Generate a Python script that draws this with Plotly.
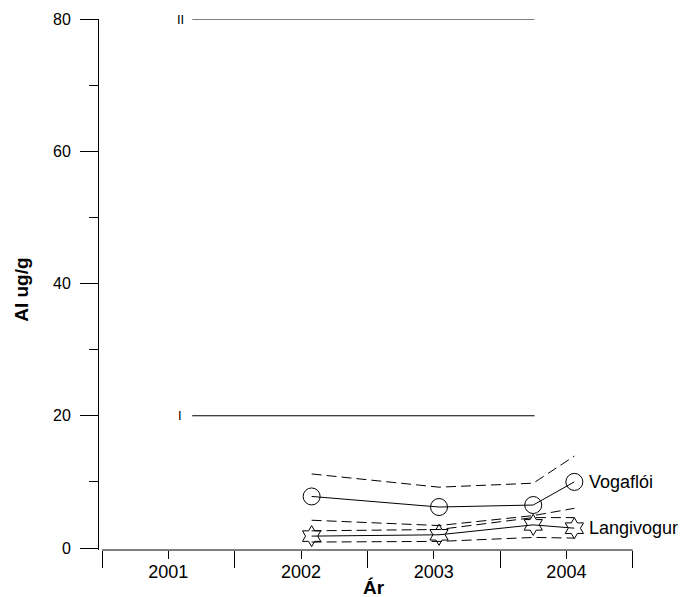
import plotly.graph_objects as go

# ---- data ----
sample_dates = [2002.08, 2003.04, 2003.75, 2004.06]

vogafloi = [7.8, 6.2, 6.5, 10.0]
vogafloi_upper = [11.2, 9.2, 9.8, 13.9]
vogafloi_lower = [4.2, 3.4, 4.9, 6.0]

langivogur = [1.8, 2.0, 3.5, 3.0]
langivogur_upper = [2.6, 2.8, 4.6, 4.6]
langivogur_lower = [0.9, 1.0, 1.6, 1.5]

year_ticks = [2001, 2002, 2003, 2004]
year_labels = ["2001", "2002", "2003", "2004"]
y_ticks = [0, 20, 40, 60, 80]

class_limits = [20, 80]
class_names = ["I", "II"]
class_line_start = 2001.18
class_line_end = 2003.76
class_label_x = 2001.09

FONT = "Liberation Sans, Arial, sans-serif"

fig = go.Figure()

dash_style = dict(color="black", width=1, dash="10px,5px")
for ys in [vogafloi_upper, vogafloi_lower, langivogur_upper, langivogur_lower]:
    fig.add_trace(go.Scatter(x=sample_dates, y=ys, mode="lines",
                             line=dash_style, showlegend=False, hoverinfo="skip"))

fig.add_trace(go.Scatter(x=sample_dates, y=vogafloi, mode="lines+markers",
                         line=dict(color="black", width=1),
                         marker=dict(symbol="circle-open", size=17,
                                     line=dict(color="black", width=1), color="black"),
                         name="Vogaflói", showlegend=False))
fig.add_trace(go.Scatter(x=sample_dates, y=langivogur, mode="lines+markers",
                         line=dict(color="black", width=1),
                         marker=dict(symbol="hexagram-open", size=16,
                                     line=dict(color="black", width=1), color="black"),
                         name="Langivogur", showlegend=False))

# class limit lines
for val, nm in zip(class_limits, class_names):
    fig.add_shape(type="line", xref="x", yref="y", x0=class_line_start, x1=class_line_end,
                  y0=val, y1=val, line=dict(color="black", width=1))
    fig.add_annotation(x=class_label_x, y=val, xref="x", yref="y", text=nm, showarrow=False,
                       font=dict(family=FONT, size=13, color="black"),
                       xanchor="center", yanchor="middle")

# series labels
fig.add_annotation(x=sample_dates[-1], y=vogafloi[-1], text="Vogaflói", showarrow=False,
                   xanchor="left", yanchor="middle", xshift=13,
                   font=dict(family=FONT, size=18, color="black"))
fig.add_annotation(x=sample_dates[-1], y=langivogur[-1], text="Langivogur", showarrow=False,
                   xanchor="left", yanchor="middle", xshift=13,
                   font=dict(family=FONT, size=18, color="black"))

# x axis line (offset from y axis)
fig.add_shape(type="line", xref="x", yref="paper", x0=2000.5, x1=2004.5, y0=0, y1=0,
              line=dict(color="black", width=1))

# axis titles
fig.add_annotation(xref="paper", yref="paper", x=0, y=0.49, xshift=-77, text="<b>Al ug/g</b>",
                   textangle=-90, showarrow=False, xanchor="center", yanchor="middle",
                   font=dict(family=FONT, size=19, color="black"))
fig.add_annotation(xref="paper", yref="paper", x=0.5, y=0, yshift=-37, xshift=8, text="<b>Ár</b>",
                   showarrow=False, xanchor="center", yanchor="middle",
                   font=dict(family=FONT, size=19, color="black"))

fig.update_layout(
    width=684, height=597,
    margin=dict(l=99, r=51, t=19, b=47, autoexpand=False),
    plot_bgcolor="white", paper_bgcolor="white",
    showlegend=False,
    font=dict(family=FONT, color="black"),
    xaxis=dict(range=[2000.4774, 2004.502], showgrid=False, zeroline=False, showline=False,
               automargin=False,
               tickmode="array", tickvals=year_ticks, ticktext=year_labels,
               ticks="outside", ticklen=8, tickwidth=1, tickcolor="black",
               ticklabelstandoff=-3,
               tickfont=dict(family=FONT, size=18, color="black"),
               minor=dict(tick0=2000.5, dtick=1, ticks="outside", ticklen=17,
                          tickwidth=1, tickcolor="black")),
    yaxis=dict(range=[-0.3, 80], showgrid=False, zeroline=False, showline=True,
               automargin=False,
               linecolor="black", linewidth=1,
               tickmode="array", tickvals=y_ticks,
               ticks="outside", ticklen=18, tickwidth=1, tickcolor="black",
               ticklabelstandoff=6,
               tickfont=dict(family=FONT, size=16, color="black"),
               minor=dict(dtick=10, tick0=0, ticks="outside", ticklen=9,
                          tickwidth=1, tickcolor="black")),
)

fig.write_html("out.html", config={"displayModeBar": False},
               post_script="document.body.style.margin='0';document.body.style.padding='0';"
                           "document.body.style.overflow='hidden';")
